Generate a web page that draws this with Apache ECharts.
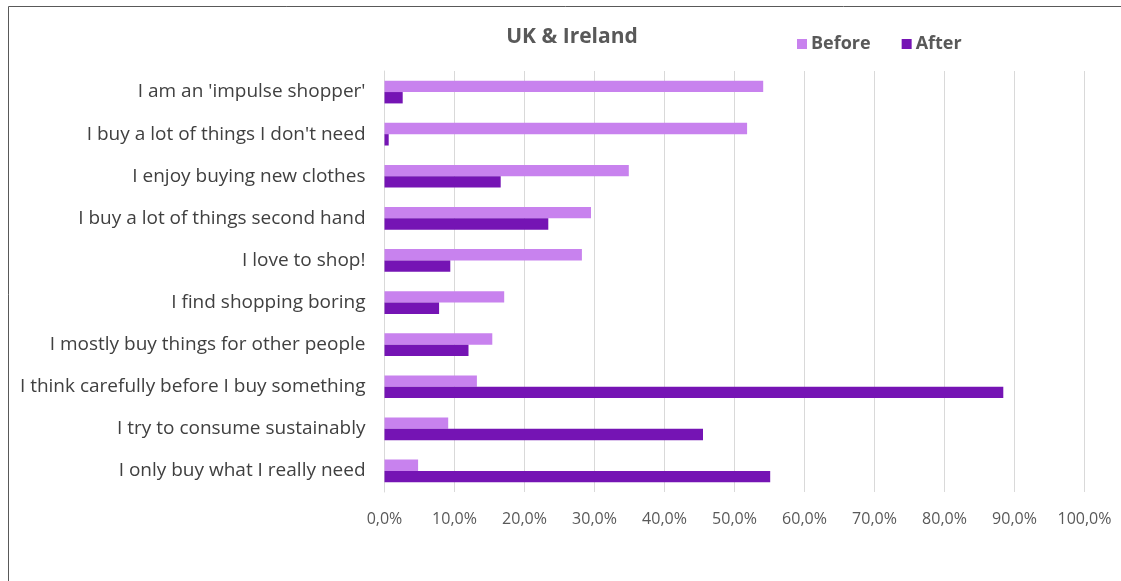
<!DOCTYPE html>
<html>
<head>
<meta charset="utf-8">
<title>UK & Ireland</title>
<script src="https://cdn.jsdelivr.net/npm/echarts@6/dist/echarts.min.js"></script>
<style>
  html, body { margin: 0; padding: 0; background: #fff; }
  #chart { width: 1121px; height: 581px; }
</style>
</head>
<body>
<div id="chart"></div>
<script>
// categories, bottom to top as the category axis draws them
const statements = [
  "I only buy what I really need",
  "I try to consume sustainably",
  "I think carefully before I buy something",
  "I mostly buy things for other people",
  "I find shopping boring",
  "I love to shop!",
  "I buy a lot of things second hand",
  "I enjoy buying new clothes",
  "I buy a lot of things I don't need",
  "I am an 'impulse shopper'"
];
// percent values
const before = [4.8, 9.1, 13.2, 15.4, 17.1, 28.2, 29.5, 34.9, 51.8, 54.1];
const after = [55.1, 45.5, 88.4, 12.0, 7.8, 9.4, 23.4, 16.6, 0.6, 2.6];
const seriesNames = ["Before", "After"];

let myChart = echarts.init(document.getElementById("chart"));
myChart.setOption({
  animation: false,
  title: {
    text: "UK & Ireland",
    left: 567,
    top: 22,
    textAlign: "center",
    textStyle: {
      fontFamily: "Open Sans",
      fontSize: 21,
      fontWeight: "bold",
      color: "#595959"
    }
  },
  legend: {
    data: seriesNames,
    left: 792,
    top: 30,
    itemWidth: 10,
    itemHeight: 10,
    itemGap: 31,
    icon: "rect",
    textStyle: {
      fontFamily: "Open Sans",
      fontSize: 18,
      fontWeight: "bold",
      color: "#595959",
      padding: [0, 0, 0, -1]
    }
  },
  graphic: [{
    // frame round the chart, as in the picture
    type: "rect",
    shape: { x: 8.5, y: 6.5, width: 1200, height: 700 },
    style: { fill: "none", stroke: "#595959", lineWidth: 1 },
    silent: true
  }],
  grid: {
    left: 384.5,
    right: 36.5,
    top: 71,
    bottom: 89
  },
  xAxis: {
    type: "value",
    min: 0,
    max: 100,
    interval: 10,
    axisLine: { show: false },
    axisTick: { show: false },
    splitLine: { lineStyle: { color: "#d9d9d9", width: 1 } },
    axisLabel: {
      margin: 19,
      fontFamily: "Open Sans",
      fontSize: 16,
      color: "#595959",
      formatter: v => v.toFixed(1).replace(".", ",") + "%"
    }
  },
  yAxis: {
    type: "category",
    data: statements,
    axisLine: { show: true, lineStyle: { color: "#d9d9d9" } },
    axisTick: { show: false },
    axisLabel: {
      margin: 19,
      fontFamily: "Open Sans",
      fontSize: 19,
      color: "#404040"
    }
  },
  series: [
    {
      name: seriesNames[0],
      type: "bar",
      data: before,
      barGap: "0%",
      barCategoryGap: "46%",
      itemStyle: { color: "#c882ee" }
    },
    {
      name: seriesNames[1],
      type: "bar",
      data: after,
      itemStyle: { color: "#7514b4" }
    }
  ]
});
</script>
</body>
</html>
